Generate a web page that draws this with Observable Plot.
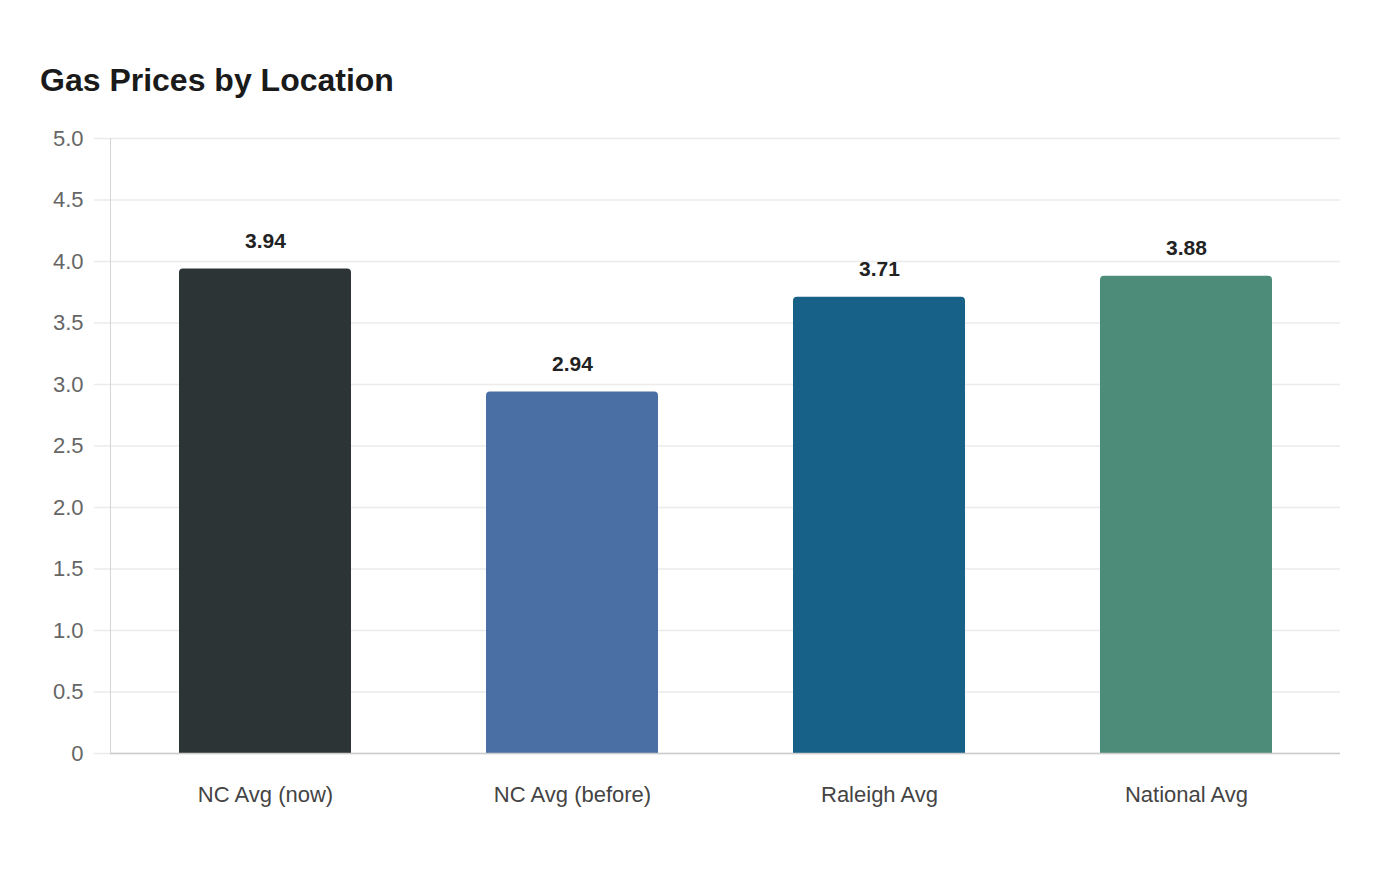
<!DOCTYPE html>
<html>
<head>
<meta charset="utf-8">
<script src="https://cdn.jsdelivr.net/npm/d3@7"></script>
<script src="https://cdn.jsdelivr.net/npm/@observablehq/plot@0.6"></script>
<style>
  html, body { margin: 0; padding: 0; background: #fff; }
  body { width: 1400px; height: 880px; overflow: hidden; font-family: "Liberation Sans", Arial, sans-serif; }
  #title { box-sizing: border-box; height: 110px; padding: 64px 0 0 40px; font-size: 32px; line-height: 32px; font-weight: bold; color: #1a1a1a; }
</style>
</head>
<body>
<div id="title">Gas Prices by Location</div>
<div id="chart"></div>
<script>
const locations = ["NC Avg (now)", "NC Avg (before)", "Raleigh Avg", "National Avg"];
const prices = [3.94, 2.94, 3.71, 3.88];
const colors = ["#2d3436", "#4a6fa5", "#176087", "#4e8c7a"];
const yTicks = [0, 0.5, 1.0, 1.5, 2.0, 2.5, 3.0, 3.5, 4.0, 4.5, 5.0];

const data = locations.map((loc, i) => ({loc, price: prices[i], color: colors[i]}));

const plot = Plot.plot({
  width: 1400,
  height: 770,
  marginTop: 28,
  marginBottom: 127,
  marginLeft: 110,
  marginRight: 60,
  style: {fontFamily: "'Liberation Sans', Arial, sans-serif", background: "#fff"},
  x: {domain: locations, paddingInner: 0.44, paddingOuter: 0.22, label: null},
  y: {domain: [0, 5], label: null},
  marks: [
    Plot.gridY({ticks: yTicks, stroke: "#ebebeb", strokeOpacity: 1, strokeWidth: 1.5}),
    Plot.axisY({ticks: yTicks, tickSize: 16, tickPadding: 11, tickFormat: d => d === 0 ? "0" : d.toFixed(1), fontSize: 22, color: "#666", stroke: "#ebebeb", strokeOpacity: 1, strokeWidth: 1.5}),
    Plot.frame({anchor: "left", stroke: "#d5d5d5", strokeDasharray: "2,1"}),
    Plot.barY(data, {x: "loc", y: "price", fill: "color", rx: 4}),
    Plot.barY(data, {x: "loc", y1: 0, y2: 0.1, fill: "color"}),
    Plot.ruleY([0], {stroke: "#ccc", strokeWidth: 1.5}),
    Plot.text(data, {x: "loc", y: "price", text: d => d.price.toFixed(2), dy: -28, fontSize: 21, fontWeight: "bold", fill: "#222"}),
    Plot.axisX({tickSize: 0, tickPadding: 33, fontSize: 22, color: "#444"})
  ]
});
document.getElementById("chart").appendChild(plot);
</script>
</body>
</html>
